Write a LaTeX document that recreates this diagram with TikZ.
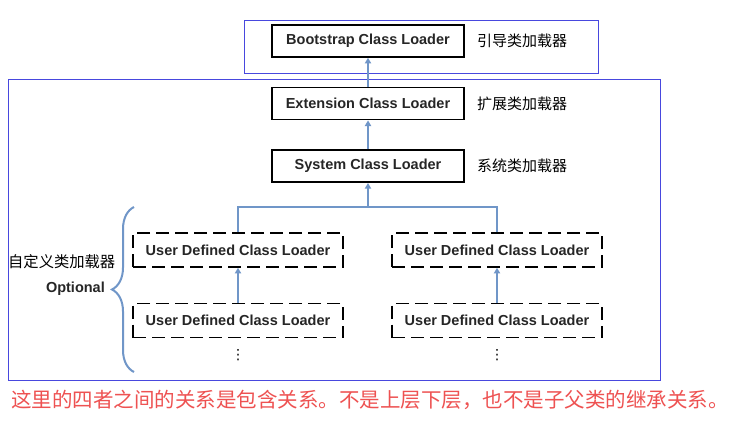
\documentclass[tikz,border=0pt]{standalone}
\usepackage{fontspec}
\setsansfont{Liberation Sans}
\newfontfamily\cjk{Noto Sans CJK SC}
\newfontfamily\symb{DejaVu Sans}
\usetikzlibrary{arrows.meta, positioning, decorations.pathreplacing}
\definecolor{frameblue}{RGB}{72,72,222}
\definecolor{linkblue}{RGB}{112,150,200}
\definecolor{notered}{RGB}{238,82,82}

\begin{document}
\begin{tikzpicture}[x=1pt, y=-1pt,
    loader/.style={draw, line width=1.6pt, minimum width=192pt, minimum height=32pt, inner sep=2pt, font=\sffamily\bfseries\fontsize{14.5}{16}\selectfont, text=black!85},
    userloader/.style={loader, dash pattern=on 13pt off 6pt, minimum width=210pt, minimum height=34pt},
    note/.style={font=\cjk\fontsize{15}{17}\selectfont, anchor=west, inner sep=0pt},
    arrow/.style={-{Triangle[length=2mm, width=2.2mm]}, line width=1.6pt, linkblue},
    link/.style={line width=1.6pt, linkblue},
    frame/.style={draw=frameblue, line width=0.9pt}
  ]
    \useasboundingbox[fill=white] (0,0) rectangle (733,421);
    % blue frames
    \draw[frame] (244,20) rectangle (598,73);
    \draw[frame] (8,79) rectangle (660,380);
    % built-in loaders
    \node[loader] (boot) at (368,41) {Bootstrap Class Loader};
    \node[loader, below=29pt of boot] (ext) {Extension Class Loader};
    \node[loader, below=29pt of ext] (sys) {System Class Loader};
    \node[note, right=12pt of boot] (bootnote) {引导类加载器};
    \node[note, right=12pt of ext] (extnote) {扩展类加载器};
    \node[note, right=12pt of sys] (sysnote) {系统类加载器};
    \draw[arrow] (ext) -- (boot);
    \draw[arrow] (sys) -- (ext);
    % user defined loaders
    \node[userloader] (user1) at (238,250) {User Defined Class Loader};
    \node[userloader] (user2) at (497,250) {User Defined Class Loader};
    \node[userloader, below=35pt of user1] (user3) {User Defined Class Loader};
    \node[userloader, below=35pt of user2] (user4) {User Defined Class Loader};
    \node[font=\symb\fontsize{14}{16}\selectfont, inner sep=0pt] (more1) at (238,355) {⋮};
    \node[font=\symb\fontsize{14}{16}\selectfont, inner sep=0pt] (more2) at (497,355) {⋮};
    \coordinate (fork) at (368,207);
    \draw[arrow] (user1.north) |- (fork) -- (sys.south);
    \draw[link] (user2.north) |- (fork);
    \draw[arrow] (user3) -- (user1);
    \draw[arrow] (user4) -- (user2);
    % brace and its labels
    \coordinate (bracebot) at (134,372);
    \coordinate (bracetop) at (134,207);
    \draw[link, line width=2pt, decorate, decoration={brace, amplitude=22pt}] (bracebot) -- (bracetop);
    \node[font=\sffamily\bfseries\fontsize{14.5}{16}\selectfont, text=black!85, anchor=east, inner sep=0pt] (optional) at (105,289) {Optional};
    \node[note, font=\cjk\fontsize{15.3}{17}\selectfont] (usernote) at (8,262) {自定义类加载器};
    % note
    \node[font=\cjk\fontsize{20.5}{23}\selectfont, text=notered, inner sep=0pt] (relation) at (370,400) {这里的四者之间的关系是包含关系。不是上层下层，也不是子父类的继承关系。};
  \end{tikzpicture}
\end{document}
